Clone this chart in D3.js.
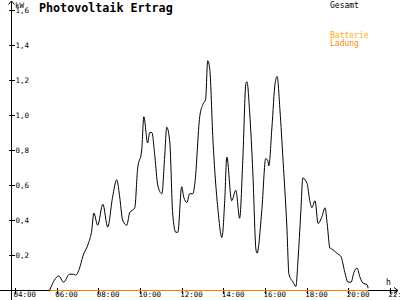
<!DOCTYPE html>
<html>
<head>
<meta charset="utf-8">
<script src="https://cdn.jsdelivr.net/npm/d3@7"></script>
<style>
  html, body { margin: 0; padding: 0; background: #fff; }
  svg { display: block; }
  text { font-family: "DejaVu Sans Mono", "Liberation Mono", monospace; }
</style>
</head>
<body>
<div id="chart"></div>
<script>
// Gesamt (kW)
const times = ["05:40","06:06","06:20","06:37","06:49","06:55","07:06","07:15","07:32","07:41",
  "07:47","07:58","08:13","08:27","08:41","08:53","09:01","09:10","09:22","09:30",
  "09:45","09:53","10:05","10:11","10:22","10:28","10:34","10:43","10:51","11:03",
  "11:11","11:17","11:26","11:34","11:43","11:49","12:00","12:06","12:15","12:23",
  "12:32","12:38","12:52","13:01","13:09","13:15","13:21","13:30","13:44","13:56",
  "14:04","14:10","14:24","14:36","14:47","14:56","15:05","15:08","15:16","15:25",
  "15:34","15:37","15:51","16:02","16:08","16:11","16:20","16:29","16:35","16:43",
  "16:52","17:03","17:09","17:21","17:29","17:35","17:43","17:49","18:01","18:09",
  "18:15","18:24","18:33","18:44","18:53","18:59","19:07","19:16","19:27","19:39",
  "19:50","19:59","20:08","20:16","20:25","20:34","20:42","20:54","20:57"];
const gesamt = [0.00,0.08,0.045,0.09,0.09,0.085,0.125,0.19,0.27,0.34,
  0.44,0.37,0.49,0.36,0.53,0.63,0.54,0.40,0.37,0.44,
  0.47,0.69,0.80,0.99,0.84,0.90,0.90,0.76,0.60,0.55,
  0.76,0.93,0.84,0.44,0.33,0.33,0.59,0.53,0.50,0.55,
  0.55,0.61,0.99,1.06,1.09,1.31,1.26,0.86,0.47,0.30,
  0.51,0.76,0.51,0.57,0.41,0.74,1.18,1.19,1.01,0.67,
  0.23,0.21,0.46,0.75,0.74,0.71,0.93,1.18,1.22,1.03,
  0.74,0.36,0.09,0.045,0.02,0.17,0.44,0.64,0.61,0.51,
  0.47,0.51,0.38,0.42,0.47,0.38,0.24,0.23,0.21,0.19,
  0.10,0.045,0.045,0.10,0.125,0.07,0.04,0.03,0.01];

// Batterie Ladung (kW)
const battTimes = ["05:40","20:57"];
const battValues = [0, 0];

const xTickLabels = ["04:00","06:00","08:00","10:00","12:00","14:00","16:00","18:00","20:00","22:00"];
const yTicks = [0.2, 0.4, 0.6, 0.8, 1.0, 1.2, 1.4, 1.6];
const yTickLabels = ["0,2","0,4","0,6","0,8","1,0","1,2","1,4","1,6"];

const width = 400, height = 300;
const hours = s => { const p = s.split(":"); return +p[0] + p[1] / 60; };

const svg = d3.select("#chart").append("svg")
  .attr("width", width)
  .attr("height", height);

const x = d3.scaleLinear().domain([4, 22]).range([15, 390]);
const y = d3.scaleLinear().domain([0, 1.6]).range([290, 10]);

// x axis
const xAxis = svg.append("g")
  .attr("transform", "translate(0,290.5)")
  .call(d3.axisBottom(x)
    .tickValues(xTickLabels.map(hours))
    .tickFormat((d, i) => xTickLabels[i])
    .tickSize(3)
    .tickSizeOuter(0));
xAxis.select(".domain").remove();
xAxis.selectAll(".tick line").attr("y1", -3).attr("shape-rendering", "crispEdges");
xAxis.selectAll(".tick text")
  .attr("text-anchor", "start")
  .attr("x", -2)
  .attr("y", 1)
  .attr("font-size", 7.5)
  .attr("font-family", null);

// y axis
const yAxis = svg.append("g")
  .attr("transform", "translate(11.5,0)")
  .call(d3.axisRight(y)
    .tickValues(yTicks)
    .tickFormat((d, i) => yTickLabels[i])
    .tickSize(3)
    .tickPadding(1)
    .tickSizeOuter(0));
yAxis.select(".domain").remove();
yAxis.selectAll(".tick line").attr("x1", -3).attr("shape-rendering", "crispEdges");
yAxis.selectAll(".tick text")
  .attr("font-size", 7.5)
  .attr("font-family", null);

// axis lines with arrows
svg.append("line").attr("x1", 0).attr("x2", 398).attr("y1", 290.5).attr("y2", 290.5)
  .attr("stroke", "#000").attr("shape-rendering", "crispEdges");
svg.append("path").attr("d", "M394,287.5L398,290.5L394,293.5")
  .attr("fill", "none").attr("stroke", "#000");
svg.append("line").attr("x1", 11.5).attr("x2", 11.5).attr("y1", 300).attr("y2", 1)
  .attr("stroke", "#000").attr("shape-rendering", "crispEdges");
svg.append("path").attr("d", "M8.5,4.5L11.5,1L14.5,4.5")
  .attr("fill", "none").attr("stroke", "#000");

svg.append("text").attr("x", 15).attr("y", 7.5).attr("font-size", 7.5).text("kW");
svg.append("text").attr("x", 386).attr("y", 285).attr("font-size", 8).text("h");

// series
const line = d3.line()
  .x(d => x(d[0]))
  .y(d => y(d[1]))
  .curve(d3.curveMonotoneX);

svg.append("path")
  .datum(battTimes.map((t, i) => [hours(t), battValues[i]]))
  .attr("d", line)
  .attr("fill", "none")
  .attr("stroke", "#ff8000")
  .attr("stroke-width", 1.2)
  .attr("transform", "translate(0,0.5)");

svg.append("path")
  .datum(times.map((t, i) => [hours(t), gesamt[i]]))
  .attr("d", line)
  .attr("fill", "none")
  .attr("stroke", "#000")
  .attr("stroke-width", 1);

// title and legend
svg.append("text").attr("x", 39).attr("y", 12)
  .attr("font-size", 11.7).attr("font-weight", "bold")
  .text("Photovoltaik Ertrag");
svg.append("text").attr("x", 330).attr("y", 7.5).attr("font-size", 8).text("Gesamt");
svg.append("text").attr("x", 330).attr("y", 38).attr("font-size", 8)
  .attr("fill", "#ffaa00").text("Batterie");
svg.append("text").attr("x", 330).attr("y", 46).attr("font-size", 8)
  .attr("fill", "#ff8800").text("Ladung");
</script>
</body>
</html>
